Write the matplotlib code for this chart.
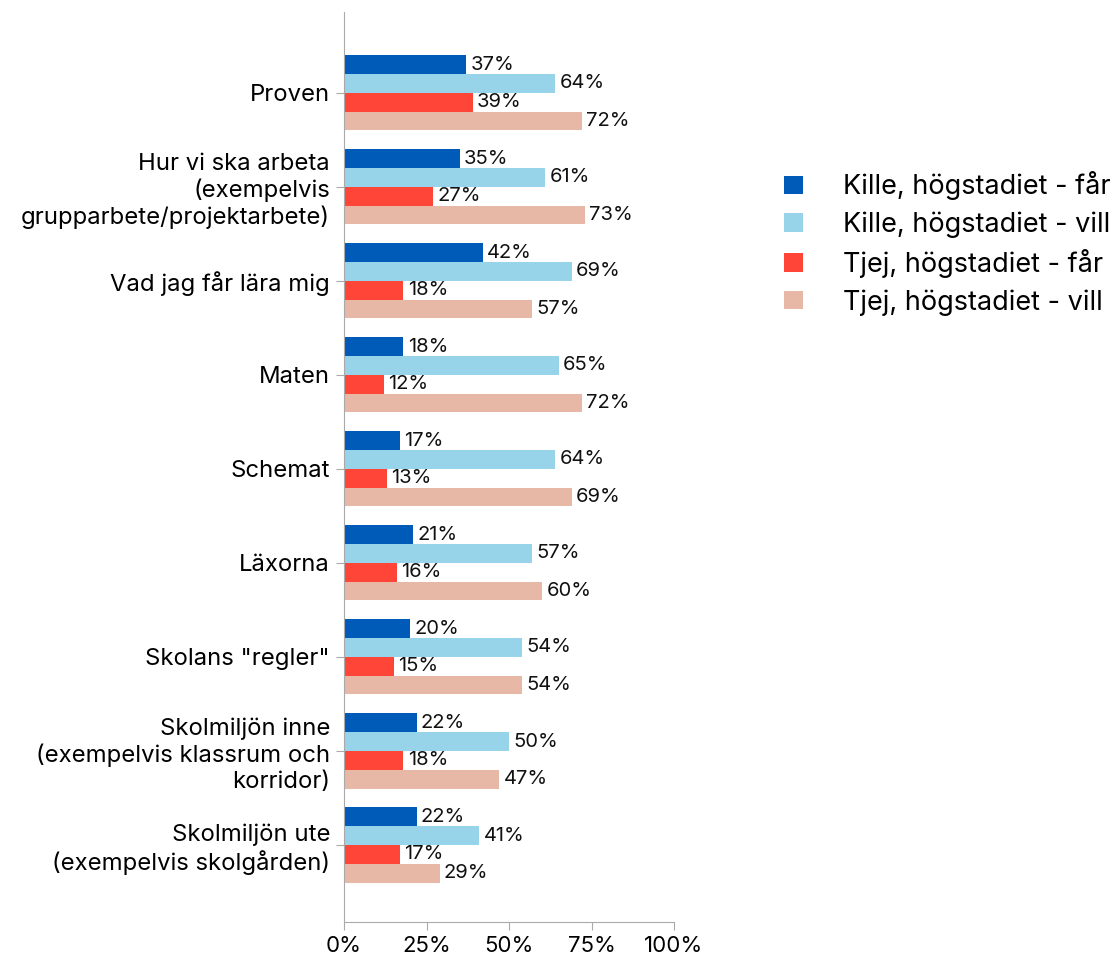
import numpy as np
import matplotlib.pyplot as plt
from matplotlib.ticker import PercentFormatter

plt.rcParams['font.family'] = ['Inter', 'DejaVu Sans']

categories = [
    'Proven',
    'Hur vi ska arbeta\n(exempelvis\ngrupparbete/projektarbete)',
    'Vad jag får lära mig',
    'Maten',
    'Schemat',
    'Läxorna',
    'Skolans "regler"',
    'Skolmiljön inne\n(exempelvis klassrum och\nkorridor)',
    'Skolmiljön ute\n(exempelvis skolgården)',
]
series_names = [
    'Kille, högstadiet - får',
    'Kille, högstadiet - vill',
    'Tjej, högstadiet - får',
    'Tjej, högstadiet - vill',
]
kille_far = [37, 35, 42, 18, 17, 21, 20, 22, 22]
kille_vill = [64, 61, 69, 65, 64, 57, 54, 50, 41]
tjej_far = [39, 27, 18, 12, 13, 16, 15, 18, 17]
tjej_vill = [72, 73, 57, 72, 69, 60, 54, 47, 29]

colors = ['#005BB8', '#98D4E9', '#FF4438', '#E7B8A5']

fig = plt.figure(figsize=(11.16, 9.56), dpi=100)
ax = fig.add_axes([344 / 1116, 34 / 956, 330 / 1116, 910 / 956])

y = np.arange(len(categories))
bar_h = 0.2
handles = []
for k, (vals, col, name) in enumerate(zip([kille_far, kille_vill, tjej_far, tjej_vill],
                                          colors, series_names)):
    v = np.array(vals) / 100
    pos = y + (k - 1.5) * bar_h
    b = ax.barh(pos, v, height=bar_h, color=col, label=name)
    handles.append(b)
    # value labels just past the bar end
    for p, val in zip(pos, vals):
        ax.text(val / 100 + 0.013, p, f'{val}%', va='center', ha='left',
                fontsize=14.5, color='#111111')

ax.set_xlim(0, 1)
ax.set_ylim(8.82, -0.86)
ax.set_yticks(y)
ax.set_yticklabels(categories, fontsize=17.2, linespacing=1.2, multialignment='right')
ax.set_xticks([0, 0.25, 0.5, 0.75, 1.0])
ax.xaxis.set_major_formatter(PercentFormatter(1.0, decimals=0))
ax.tick_params(axis='x', labelsize=16, length=6, color='#aaaaaa', pad=4)
ax.tick_params(axis='y', length=6, color='#aaaaaa', pad=4)
for s in ['top', 'right']:
    ax.spines[s].set_visible(False)
for s in ['left', 'bottom']:
    ax.spines[s].set_color('#aaaaaa')

fig.legend(handles=handles, loc='upper left', bbox_to_anchor=(760 / 1116, 1 - 147 / 956),
           frameon=False, fontsize=19.5, handlelength=0.67, handleheight=0.67,
           handletextpad=1.5, labelspacing=0.41)

fig.savefig('out.png', dpi=100)
